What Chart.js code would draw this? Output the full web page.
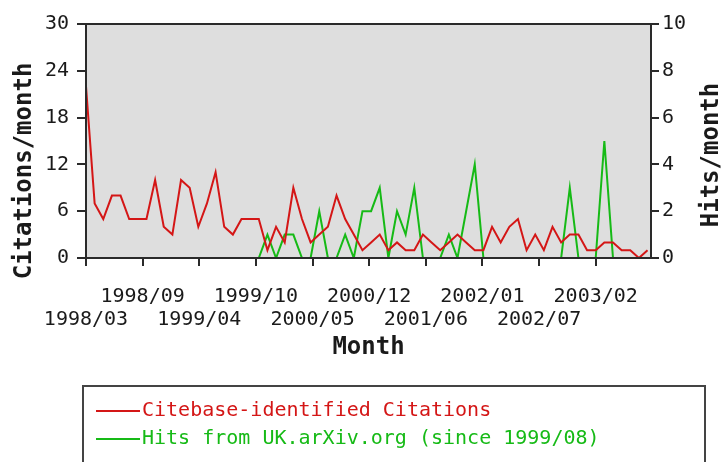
<!DOCTYPE html>
<html>
<head>
<meta charset="utf-8">
<script src="https://cdn.jsdelivr.net/npm/chart.js@4.4.1/dist/chart.umd.min.js"></script>
<style>
html, body { margin: 0; padding: 0; background: #fff; }
</style>
</head>
<body>
<canvas id="chart" width="723" height="462"></canvas>
<script>
// monthly points, 1998/03 .. 2003/08
const months = [
    '1998/03','1998/04','1998/05','1998/06','1998/07','1998/08','1998/09','1998/10','1998/11','1998/12',
    '1999/01','1999/02','1999/03','1999/04','1999/05','1999/06','1999/07','1999/08','1999/09','1999/10',
    '1999/11','1999/12','2000/01','2000/02','2000/03','2000/04','2000/05','2000/06','2000/07','2000/08',
    '2000/09','2000/10','2000/11','2000/12','2001/01','2001/02','2001/03','2001/04','2001/05','2001/06',
    '2001/07','2001/08','2001/09','2001/10','2001/11','2001/12','2002/01','2002/02','2002/03','2002/04',
    '2002/05','2002/06','2002/07','2002/08','2002/09','2002/10','2002/11','2002/12','2003/01','2003/02',
    '2003/03','2003/04','2003/05','2003/06','2003/07','2003/08'
];

const citations = [
    22, 7, 5, 8, 8, 5, 5, 5, 10, 4,
    3, 10, 9, 4, 7, 11, 4, 3, 5, 5,
    5, 1, 4, 2, 9, 5, 2, 3, 4, 8,
    5, 3, 1, 2, 3, 1, 2, 1, 1, 3,
    2, 1, 2, 3, 2, 1, 1, 4, 2, 4,
    5, 1, 3, 1, 4, 2, 3, 3, 1, 1,
    2, 2, 1, 1, 0, 1
];

// hits only recorded since 1999/08
const hits = [
    null, null, null, null, null, null, null, null, null, null,
    null, null, null, null, null, null, null, 0, 0, 0,
    0, 1, 0, 1, 1, 0, 0, 2, 0, 0,
    1, 0, 2, 2, 3, 0, 2, 1, 3, 0,
    0, 0, 1, 0, 2, 4, 0, 0, 0, 0,
    0, 0, 0, 0, 0, 0, 3, 0, 0, 0,
    5, 0, 0, 0, 0, 0
];

const tickLabels = ['1998/03','1998/09','1999/04','1999/10','2000/05','2000/12','2001/06','2002/01','2002/07','2003/02'];
const seriesNames = ['Citebase-identified Citations', 'Hits from UK.arXiv.org (since 1999/08)'];

const red = 'rgb(212, 22, 22)';
const green = 'rgb(22, 186, 22)';
const mono = '"DejaVu Sans Mono", monospace';
const ink = '#1a1a1a';

// labels sit evenly along the axis
const lastTick = months.indexOf(tickLabels[tickLabels.length - 1]);
const tickStep = lastTick / (tickLabels.length - 1);

const frame = {
    id: 'frame',
    beforeDraw(chart) {
        const { ctx, chartArea: a } = chart;
        ctx.save();
        ctx.fillStyle = '#dedede';
        ctx.fillRect(a.left, a.top, a.right - a.left, a.bottom - a.top);
        ctx.restore();
    },
    afterDraw(chart) {
        const { ctx, chartArea: a } = chart;
        ctx.save();
        ctx.strokeStyle = '#2a2a2a';
        ctx.lineWidth = 2;
        ctx.strokeRect(a.left, a.top, a.right - a.left, a.bottom - a.top);

        // rotated axis titles
        ctx.fillStyle = ink;
        ctx.font = 'bold 24px ' + mono;
        ctx.textAlign = 'center';
        ctx.textBaseline = 'middle';
        ctx.save();
        ctx.translate(25, 171);
        ctx.rotate(-Math.PI / 2);
        ctx.fillText('Citations/month', 0, 0);
        ctx.restore();
        ctx.save();
        ctx.translate(712, 155);
        ctx.rotate(-Math.PI / 2);
        ctx.fillText('Hits/month', 0, 0);
        ctx.restore();

        // legend box
        ctx.strokeStyle = '#444';
        ctx.lineWidth = 2;
        ctx.strokeRect(83, 386, 622, 100);
        ctx.font = '20px ' + mono;
        ctx.textAlign = 'left';
        [red, green].forEach((c, i) => {
            const y = 411 + i * 28;
            ctx.strokeStyle = c;
            ctx.lineWidth = 2;
            ctx.beginPath();
            ctx.moveTo(96, y);
            ctx.lineTo(140, y);
            ctx.stroke();
            ctx.fillStyle = c;
            ctx.fillText(seriesNames[i], 142, y);
        });
        ctx.restore();
    }
};

const ctx = document.querySelector('#chart');

const config = {
    type: 'line',
    data: {
        datasets: [{
            label: seriesNames[0],
            data: citations.map((v, i) => ({ x: i, y: v })),
            borderColor: red,
            borderWidth: 2,
            yAxisID: 'y',
        }, {
            label: seriesNames[1],
            data: hits.map((v, i) => ({ x: i, y: v })),
            borderColor: green,
            borderWidth: 2,
            yAxisID: 'y1',
        }],
    },
    options: {
        responsive: false,
        animation: false,
        devicePixelRatio: 1,
        layout: {
            padding: { top: 24, bottom: 90, left: 0, right: 0 }
        },
        elements: {
            point: { radius: 0 },
            line: { tension: 0 },
        },
        scales: {
            x: {
                type: 'linear',
                min: 0,
                max: 65.4,
                afterBuildTicks: (s) => {
                    s.ticks = tickLabels.map((l, i) => ({ value: i * tickStep }));
                },
                afterFit: (s) => { s.height = 114; },
                ticks: {
                    autoSkip: false,
                    maxRotation: 0,
                    padding: 19,
                    color: ink,
                    font: { family: mono, size: 20, lineHeight: 1.15 },
                    callback: (v, i) => i % 2 ? [tickLabels[i]] : ['', tickLabels[i]],
                },
                grid: { drawOnChartArea: false, tickLength: 8, color: '#2a2a2a', lineWidth: 2 },
                border: { color: '#2a2a2a', width: 2 },
                title: {
                    display: true,
                    text: 'Month',
                    color: ink,
                    font: { family: mono, size: 24, weight: 'bold' },
                    padding: { top: 0, bottom: 10 },
                },
            },
            y: {
                position: 'left',
                min: 0,
                max: 30,
                afterFit: (s) => { s.width = 86; },
                ticks: {
                    stepSize: 6,
                    padding: 8,
                    color: ink,
                    font: { family: mono, size: 20 },
                },
                grid: { drawOnChartArea: false, tickLength: 9, color: '#2a2a2a', lineWidth: 2 },
                border: { color: '#2a2a2a', width: 2 },
            },
            y1: {
                position: 'right',
                min: 0,
                max: 10,
                afterFit: (s) => { s.width = 72; },
                ticks: {
                    stepSize: 2,
                    padding: 3,
                    color: ink,
                    font: { family: mono, size: 20 },
                },
                grid: { drawOnChartArea: false, tickLength: 8, color: '#2a2a2a', lineWidth: 2 },
                border: { color: '#2a2a2a', width: 2 },
            },
        },
        plugins: {
            legend: { display: false },
            tooltip: { enabled: false },
        },
    },
    plugins: [frame],
};

const chart = new Chart(ctx, config);
</script>
</body>
</html>
